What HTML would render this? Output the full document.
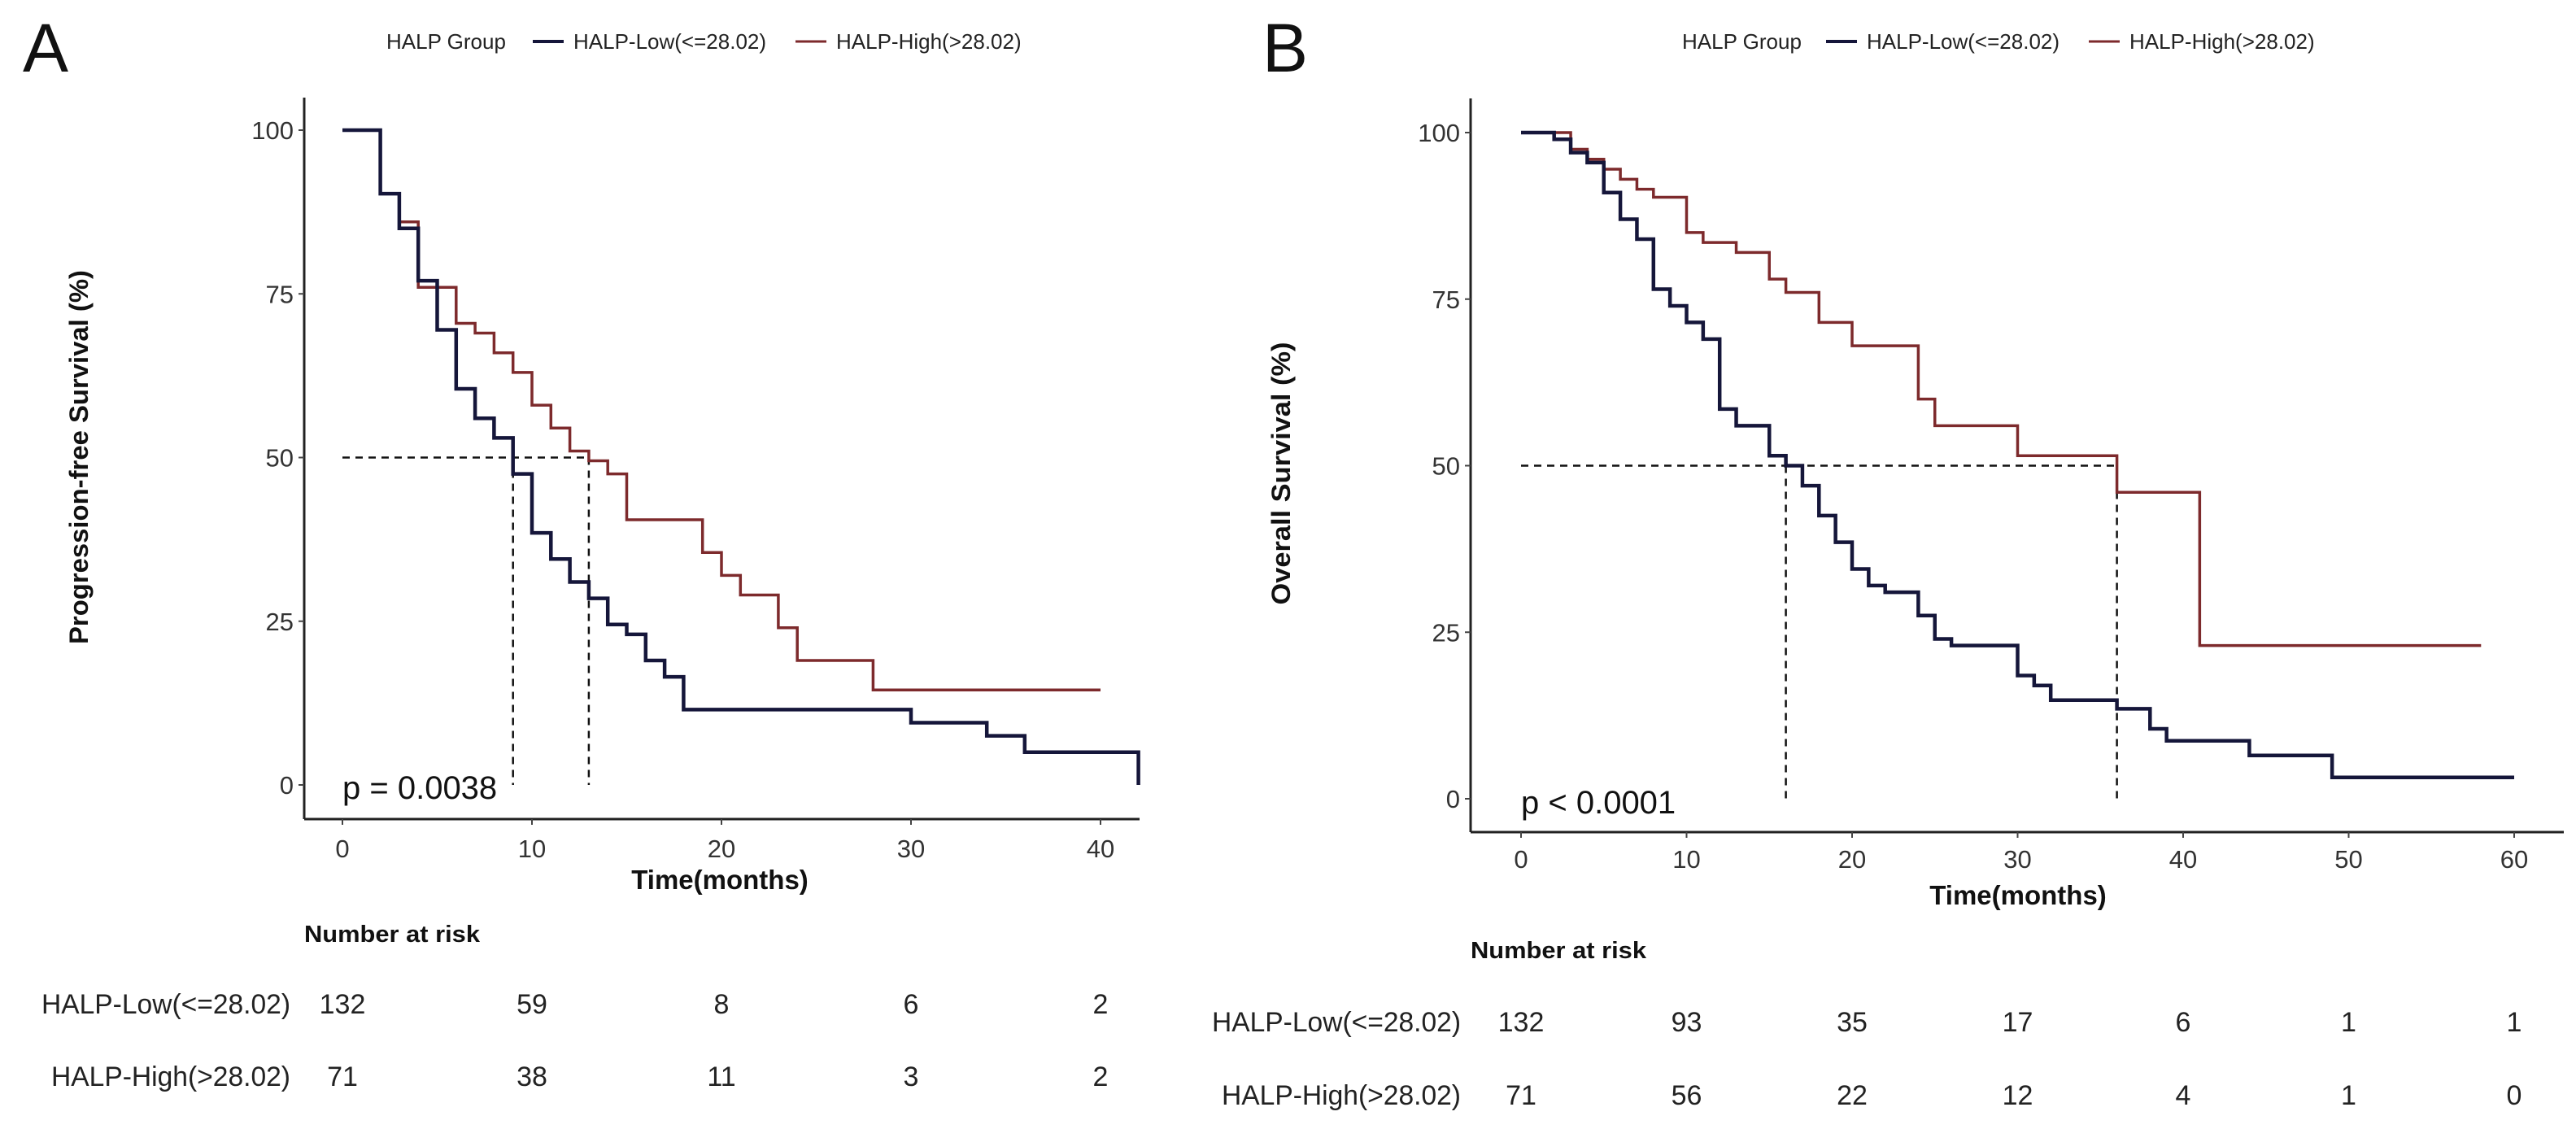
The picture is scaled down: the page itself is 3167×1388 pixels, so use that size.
<!DOCTYPE html>
<html><head><meta charset="utf-8"><style>
html,body{margin:0;padding:0;background:#fff;}
svg{display:block;font-family:"Liberation Sans",Arial,sans-serif;}
</style></head><body>
<svg id="chart" width="3167" height="1388" viewBox="0 0 3167 1388" xmlns="http://www.w3.org/2000/svg">
<text x="28" y="88" font-size="84" fill="#111">A</text>
<text x="1552" y="88" font-size="84" fill="#111">B</text>
</svg>
<script>
// Panel A: progression-free survival
const aLowT = [0,2,3,4,5,6,7,8,9,10,11,12,13,14,15,16,17,18,30,34,36,42];
const aLowS = [100,90.3,85,77,69.5,60.5,56,53,47.5,38.5,34.5,31,28.5,24.5,23,19,16.5,11.5,9.5,7.5,5,0];
const aLowEnd = 42;
const aHighT = [0,2,3,4,6,7,8,9,10,11,12,13,14,15,19,20,21,23,24,28];
const aHighS = [100,90.3,86,76,70.5,69,66,63,58,54.5,51,49.5,47.5,40.5,35.5,32,29,24,19,14.5];
const aHighEnd = 40;
const aMedians = [9,13];
const aXTicks = [0,10,20,30,40];
const aYTicks = [0,25,50,75,100];
const aRiskLow = [132,59,8,6,2];
const aRiskHigh = [71,38,11,3,2];
// Panel B: overall survival
const bLowT = [0,2,3,4,5,6,7,8,9,10,11,12,13,15,16,17,18,19,20,21,22,24,25,26,30,31,32,36,38,39,44,49];
const bLowS = [100,99,97,95.5,91,87,84,76.5,74,71.5,69,58.5,56,51.5,50,47,42.5,38.5,34.5,32,31,27.5,24,23,18.5,17,14.8,13.5,10.5,8.7,6.5,3.2];
const bLowEnd = 60;
const bHighT = [0,3,4,5,6,7,8,10,11,13,15,16,18,20,24,25,30,36,41];
const bHighS = [100,97.5,96,94.5,93,91.5,90.3,85,83.5,82,78,76,71.5,68,60,56,51.5,46,23];
const bHighEnd = 58;
const bMedians = [16,36];
const bXTicks = [0,10,20,30,40,50,60];
const bYTicks = [0,25,50,75,100];
const bRiskLow = [132,93,35,17,6,1,1];
const bRiskHigh = [71,56,22,12,4,1,0];

const svg = document.getElementById('chart');
const NS = 'http://www.w3.org/2000/svg';
function mk(tag, attrs, text){
  const e = document.createElementNS(NS, tag);
  for (const k in attrs) e.setAttribute(k, attrs[k]);
  if (text !== undefined) e.textContent = text;
  svg.appendChild(e);
  return e;
}
function stepPath(ts, ss, end, X, Y){
  let d = 'M' + X(ts[0]) + ' ' + Y(ss[0]);
  for (let i = 1; i < ts.length; i++){
    d += ' H' + X(ts[i]) + ' V' + Y(ss[i]);
  }
  d += ' H' + X(end);
  return d;
}
function panel(p){
  const X = t => p.x0 + t * (p.xMaxPx - p.x0) / p.xMax;
  const Y = s => p.y0 + s * (p.y100 - p.y0) / 100;
  let e;
  e = mk('line', {x1:p.axX, y1:p.axTop, x2:p.axX, y2:p.axY, stroke:'#222', 'stroke-width':3});
  
  
  e = mk('line', {x1:p.axX, y1:p.axY, x2:p.axRight, y2:p.axY, stroke:'#222', 'stroke-width':3});
  
  
  p.yTicks.forEach(v => {
    const t = mk('line', {x1:p.axX-7, y1:Y(v), x2:p.axX, y2:Y(v), stroke:'#444', 'stroke-width':2});
    
    
    const l = mk('text', {x:p.axX-13, y:Y(v)+11, 'font-size':31, 'text-anchor':'end', fill:'#333'}, String(v));
    
    
  });
  p.xTicks.forEach(v => {
    const t = mk('line', {x1:X(v), y1:p.axY, x2:X(v), y2:p.axY+7, stroke:'#444', 'stroke-width':2});
    
    
    const l = mk('text', {x:X(v), y:p.tickY, 'font-size':31, 'text-anchor':'middle', fill:'#333'}, String(v));
    
    
  });
  const mMax = Math.max.apply(null, p.medians);
  e = mk('path', {d:'M'+X(0)+' '+Y(50)+' H'+X(mMax), stroke:'#111', 'stroke-width':2.5, 'stroke-dasharray':'9 7', fill:'none'});
  
  
  p.medians.forEach(m => {
    const v = mk('path', {d:'M'+X(m)+' '+Y(50)+' V'+Y(0), stroke:'#111', 'stroke-width':2.5, 'stroke-dasharray':'9 7', fill:'none'});
    
    
  });
  e = mk('path', {d:stepPath(p.highT, p.highS, p.highEnd, X, Y), stroke:'#7d2a2c', 'stroke-width':3.5, fill:'none'});
  
  
  e = mk('path', {d:stepPath(p.lowT, p.lowS, p.lowEnd, X, Y), stroke:'#15163a', 'stroke-width':4.5, fill:'none'});
  
  
  e = mk('text', {x:X(0), y:p.pY, 'font-size':40, fill:'#111'}, p.pText);
  
  
  e = mk('text', {x:p.xTitleX, y:p.xTitleY, 'font-size':33, 'font-weight':'bold', 'text-anchor':'middle', fill:'#111'}, 'Time(months)');
  
  
  e = mk('text', {x:0, y:0, 'font-size':32, 'font-weight':'bold', 'text-anchor':'middle', fill:'#111', textLength:p.yTitleLen, lengthAdjust:'spacingAndGlyphs', transform:'translate('+p.yTitleX+','+p.yTitleY+') rotate(-90)'}, p.yTitle);
  
  
  e = mk('text', {x:p.legX, y:60, 'font-size':26, fill:'#222'}, 'HALP Group');
  
  
  e = mk('line', {x1:p.legL1, y1:51, x2:p.legL1+38, y2:51, stroke:'#15163a', 'stroke-width':4});
  
  
  e = mk('text', {x:p.legL1+50, y:60, 'font-size':26, fill:'#222'}, 'HALP-Low(<=28.02)');
  
  
  e = mk('line', {x1:p.legL2, y1:51, x2:p.legL2+38, y2:51, stroke:'#7d2a2c', 'stroke-width':3});
  
  
  e = mk('text', {x:p.legL2+50, y:60, 'font-size':26, fill:'#222'}, 'HALP-High(>28.02)');
  
  
  e = mk('text', {x:p.axX, y:p.riskTitleY, 'font-size':29, 'font-weight':'bold', fill:'#111', textLength:216, lengthAdjust:'spacingAndGlyphs'}, 'Number at risk');
  
  
  e = mk('text', {x:p.riskLabelX, y:p.riskY1, 'font-size':34, 'text-anchor':'end', fill:'#222', textLength:306, lengthAdjust:'spacingAndGlyphs'}, 'HALP-Low(<=28.02)');
  
  
  e = mk('text', {x:p.riskLabelX, y:p.riskY2, 'font-size':34, 'text-anchor':'end', fill:'#222', textLength:294, lengthAdjust:'spacingAndGlyphs'}, 'HALP-High(>28.02)');
  
  
  p.xTicks.forEach((v, i) => {
    const a = mk('text', {x:X(v), y:p.riskY1, 'font-size':34, 'text-anchor':'middle', fill:'#222'}, String(p.riskLow[i]));
    
    
    const b = mk('text', {x:X(v), y:p.riskY2, 'font-size':34, 'text-anchor':'middle', fill:'#222'}, String(p.riskHigh[i]));
    
    
  });
}
panel({id:'panel-a', x0:421, xMax:40, xMaxPx:1353, y0:965, y100:160,
  axX:374, axTop:120, axY:1007, axRight:1401, tickY:1054,
  xTicks:aXTicks, yTicks:aYTicks, medians:aMedians,
  lowT:aLowT, lowS:aLowS, lowEnd:aLowEnd, highT:aHighT, highS:aHighS, highEnd:aHighEnd,
  pText:'p = 0.0038', pY:982, xTitleX:885, xTitleY:1093,
  yTitle:'Progression-free Survival (%)', yTitleX:108, yTitleY:562, yTitleLen:460,
  legX:475, legL1:655, legL2:978,
  riskTitleY:1158, riskLabelX:357, riskY1:1246, riskY2:1335,
  riskLow:aRiskLow, riskHigh:aRiskHigh});
panel({id:'panel-b', x0:1870, xMax:60, xMaxPx:3091, y0:982, y100:163,
  axX:1808, axTop:121, axY:1023, axRight:3152, tickY:1067,
  xTicks:bXTicks, yTicks:bYTicks, medians:bMedians,
  lowT:bLowT, lowS:bLowS, lowEnd:bLowEnd, highT:bHighT, highS:bHighS, highEnd:bHighEnd,
  pText:'p < 0.0001', pY:1000, xTitleX:2481, xTitleY:1112,
  yTitle:'Overall Survival (%)', yTitleX:1586, yTitleY:582, yTitleLen:323,
  legX:2068, legL1:2245, legL2:2568,
  riskTitleY:1178, riskLabelX:1796, riskY1:1268, riskY2:1358,
  riskLow:bRiskLow, riskHigh:bRiskHigh});
</script>
</body></html>
